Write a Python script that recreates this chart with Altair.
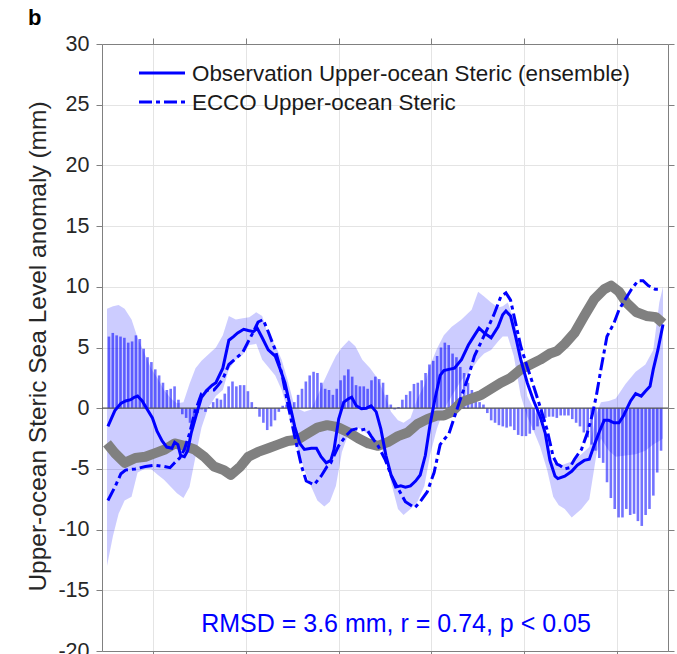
import altair as alt
import pandas as pd

FONT = "Liberation Sans"
BLUE = "#0000ff"
GRAY = "#808080"
AXIS_GRAY = "#808080"
TEXT_DARK = "#262626"

x_domain = [2005, 2017]
year_ticks = [2006, 2008, 2010, 2012, 2014, 2016]
y_ticks = [-20, -15, -10, -5, 0, 5, 10, 15, 20, 25, 30]

# monthly difference bars (mm), Jan 2005 .. Dec 2016
bar_values = [
    5.9, 6.2, 6.0, 5.9, 5.8, 5.4, 5.5, 6.0, 5.7, 4.9, 4.2, 3.8,
    3.2, 2.7, 2.1, 1.5, 1.6, 1.8, 0.7, -0.5, -0.8, -1.2, -1.0, -0.4,
    -0.1, -0.3, 0.1, 0.5, 0.8, 0.7, 1.2, 1.8, 2.2, 1.8, 1.9, 1.9,
    1.4, 0.5, 0.1, -0.7, -1.2, -1.8, -1.5, -1.0, -0.3, 0.2, 0.3, 0.1,
    0.5, 1.1, 1.6, 2.2, 2.7, 3.0, 2.9, 2.1, 1.6, 1.5, 1.1, 1.6,
    2.3, 2.7, 3.2, 2.6, 1.9, 1.8, 1.8, 1.6, 2.3, 2.6, 2.4, 2.1,
    1.1, 0.3, -0.1, 0.1, 0.7, 1.1, 1.4, 2.0, 2.1, 2.3, 2.9, 3.6,
    3.9, 4.3, 5.0, 5.4, 5.2, 4.5, 4.2, 3.4, 2.9, 2.1, 1.5, 1.1,
    0.5, 0.3, -0.4, -1.0, -1.2, -1.4, -1.5, -1.6, -1.5, -1.8, -2.2, -2.3,
    -2.3, -2.1, -1.8, -1.5, -1.1, -0.8, -0.7, -0.7, -0.8, -0.6, -0.6, -0.6,
    -0.9, -1.2, -1.5, -2.0, -2.4, -3.0, -3.5, -4.1, -4.5, -6.1, -7.4, -8.3,
    -9.0, -9.0, -8.3, -8.8, -8.7, -9.3, -9.7, -8.8, -8.3, -7.2, -5.3, -3.5,
]
bar_time = [2005 + (i + 0.5) / 12 for i in range(len(bar_values))]

obs_time = [
    2005.02, 2005.17, 2005.30, 2005.40, 2005.51, 2005.59, 2005.66, 2005.76, 2005.87, 2005.98,
    2006.08, 2006.19, 2006.29, 2006.40, 2006.46, 2006.53, 2006.59, 2006.67, 2006.74, 2006.82,
    2006.93, 2007.04, 2007.16, 2007.27, 2007.35, 2007.50, 2007.63, 2007.73, 2007.82, 2007.95,
    2008.05, 2008.16, 2008.24, 2008.35, 2008.48, 2008.63, 2008.73, 2008.84, 2008.94, 2009.05,
    2009.16, 2009.26, 2009.41, 2009.52, 2009.62, 2009.73, 2009.83, 2009.90, 2010.00, 2010.11,
    2010.22, 2010.28, 2010.38, 2010.49, 2010.60, 2010.70, 2010.81, 2010.91, 2011.02, 2011.13,
    2011.23, 2011.34, 2011.44, 2011.55, 2011.66, 2011.76, 2011.87, 2011.97, 2012.08, 2012.19,
    2012.27, 2012.38, 2012.50, 2012.65, 2012.80, 2012.93, 2013.03, 2013.14, 2013.29, 2013.44,
    2013.54, 2013.61, 2013.71, 2013.82, 2013.93, 2014.07, 2014.20, 2014.35, 2014.46, 2014.56,
    2014.67, 2014.73, 2014.88, 2015.03, 2015.15, 2015.30, 2015.41, 2015.52, 2015.62, 2015.73,
    2015.83, 2015.94, 2016.05, 2016.15, 2016.30, 2016.41, 2016.53, 2016.62, 2016.72, 2016.79,
    2016.89, 2017.00,
]
obs_value = [
    -1.5, -0.2, 0.4, 0.6, 0.7, 0.9, 1.0, 0.6, -0.1, -0.8,
    -1.9, -2.7, -3.2, -3.3, -2.8, -3.0, -3.9, -4.0, -3.5, -2.0,
    -0.5, 0.9, 1.5, 1.9, 2.1, 3.3, 5.6, 5.9, 6.2, 6.5,
    6.4, 6.3, 6.6, 5.8, 4.8, 4.3, 3.3, 2.1, 0.4, -1.5,
    -2.9, -3.4, -3.3, -3.3, -4.0, -4.5, -4.3, -3.4, -0.9, 0.5,
    0.8, 0.9, 0.2, -0.05, 0.0, 0.2, -0.3, -1.7, -3.9, -5.5,
    -6.5, -6.4, -6.5, -6.4, -6.0, -5.5, -3.9, -1.4, 0.8, 2.7,
    3.1, 3.2, 3.3, 4.0, 5.2, 6.0, 6.6, 6.2, 5.8, 6.7,
    7.7, 8.0, 7.6, 5.9, 4.0, 2.1, 0.7, -0.7, -2.1, -4.3,
    -5.6, -5.8, -5.6, -5.2, -4.7, -4.3, -4.2, -3.0, -2.0, -1.0,
    -1.0, -1.2, -1.2, -0.6, 0.6, 1.2, 1.0, 1.4, 1.8, 3.2,
    4.8, 6.9,
]

ecco_time = [
    2005.02, 2005.17, 2005.30, 2005.40, 2005.61, 2005.83, 2006.04, 2006.23, 2006.36, 2006.46,
    2006.57, 2006.67, 2006.78, 2006.89, 2007.04, 2007.18, 2007.31, 2007.40, 2007.50, 2007.63,
    2007.78, 2007.93, 2008.05, 2008.16, 2008.26, 2008.37, 2008.48, 2008.63, 2008.77, 2008.90,
    2009.05, 2009.20, 2009.30, 2009.47, 2009.62, 2009.75, 2009.83, 2009.90, 2010.00, 2010.15,
    2010.28, 2010.38, 2010.49, 2010.60, 2010.70, 2010.85, 2011.00, 2011.13, 2011.28, 2011.44,
    2011.64, 2011.76, 2011.91, 2012.06, 2012.19, 2012.27, 2012.38, 2012.50, 2012.65, 2012.80,
    2012.93, 2013.08, 2013.23, 2013.35, 2013.50, 2013.61, 2013.71, 2013.82, 2013.93, 2014.07,
    2014.20, 2014.35, 2014.50, 2014.63, 2014.71, 2014.77, 2014.88, 2014.99, 2015.09, 2015.24,
    2015.37, 2015.47, 2015.56, 2015.66, 2015.79, 2015.94, 2016.05, 2016.19, 2016.32, 2016.46,
    2016.57, 2016.68, 2016.83, 2016.96,
]
ecco_value = [
    -7.6, -6.5, -5.4, -5.1, -5.0, -4.8, -4.7, -4.8, -4.9, -4.5,
    -4.1, -3.4, -2.1, -0.4, 1.2, 1.5, 1.5, 1.9, 2.4, 3.6,
    4.1, 4.6, 5.5, 6.3, 7.1, 7.3, 6.3, 4.8, 2.9, 0.4,
    -2.3, -4.8, -6.0, -6.3, -5.6, -4.8, -4.5, -3.9, -3.1, -2.3,
    -1.8, -1.7, -1.8, -1.7, -2.3, -3.1, -4.2, -5.5, -6.6, -7.7,
    -8.2, -7.7, -6.9, -5.3, -3.0, -2.6, -2.1, -0.7, 1.0, 2.6,
    4.3, 5.5, 6.7, 7.7, 9.2, 9.5, 8.9, 7.0, 5.1, 3.4,
    1.9, 0.1, -1.8, -4.0, -4.6, -4.7, -5.0, -4.9, -4.2, -3.4,
    -2.0, -0.6, 1.0, 3.2, 5.9, 7.0, 8.1, 9.0, 9.8, 10.5,
    10.5, 10.1, 9.8, 9.8,
]

trend_time = [
    2005.00, 2005.17, 2005.38, 2005.61, 2005.83, 2006.04, 2006.25, 2006.46, 2006.67, 2006.89,
    2007.10, 2007.31, 2007.52, 2007.67, 2007.88, 2008.05, 2008.26, 2008.48, 2008.69, 2008.90,
    2009.11, 2009.32, 2009.54, 2009.75, 2009.90, 2010.00, 2010.22, 2010.43, 2010.64, 2010.85,
    2011.06, 2011.28, 2011.49, 2011.70, 2011.91, 2012.12, 2012.27, 2012.44, 2012.65, 2012.87,
    2013.08, 2013.29, 2013.50, 2013.71, 2013.93, 2014.14, 2014.35, 2014.56, 2014.71, 2014.88,
    2015.09, 2015.30, 2015.52, 2015.73, 2015.88, 2016.05, 2016.21, 2016.43, 2016.64, 2016.85,
    2017.00,
]
trend_value = [
    -2.9, -3.7, -4.5, -4.1, -4.0, -3.7, -3.4, -2.9, -3.1, -3.4,
    -4.0, -4.8, -5.1, -5.5, -4.8, -4.0, -3.6, -3.3, -3.0, -2.7,
    -2.6, -2.1, -1.6, -1.4, -1.5, -1.6, -2.0, -2.5, -2.9, -3.1,
    -2.8, -2.3, -2.0, -1.3, -0.9, -0.6, -0.6, -0.3, 0.5, 0.8,
    1.1, 1.6, 2.1, 2.5, 3.2, 3.6, 4.0, 4.5, 4.7, 5.3,
    6.2, 7.6, 9.0, 9.8, 10.1, 9.6, 8.7, 7.9, 7.6, 7.5,
    7.0,
]

band_time = [
    2005.00, 2005.13, 2005.25, 2005.38, 2005.53, 2005.66, 2005.81, 2005.95, 2006.10, 2006.23,
    2006.38, 2006.51, 2006.65, 2006.78, 2006.91, 2007.04, 2007.18, 2007.35, 2007.50, 2007.63,
    2007.78, 2007.93, 2008.07, 2008.22, 2008.35, 2008.48, 2008.63, 2008.77, 2008.90, 2009.05,
    2009.16, 2009.26, 2009.41, 2009.54, 2009.69, 2009.81, 2009.94, 2010.07, 2010.22, 2010.36,
    2010.51, 2010.68, 2010.85, 2011.00, 2011.13, 2011.28, 2011.40, 2011.55, 2011.70, 2011.85,
    2011.97, 2012.12, 2012.27, 2012.44, 2012.65, 2012.87, 2013.01, 2013.14, 2013.29, 2013.44,
    2013.54, 2013.65, 2013.78, 2013.93, 2014.07, 2014.20, 2014.35, 2014.50, 2014.63, 2014.75,
    2014.88, 2015.03, 2015.24, 2015.41, 2015.56, 2015.66, 2015.83, 2015.98, 2016.19, 2016.41,
    2016.62, 2016.79, 2016.92, 2017.00,
]
band_upper = [
    8.2, 8.4, 8.5, 8.2, 7.3, 5.8, 4.5, 3.3, 2.4, 1.5,
    0.8, 0.4, 0.5, 2.0, 3.3, 3.9, 4.4, 5.0, 6.0, 7.6,
    7.3, 7.4, 7.5, 7.9, 7.6, 6.0, 5.2, 4.0, 2.3, 0.1,
    -0.1, -0.3, -0.1, 1.0, 2.3, 3.3, 4.3, 5.0, 5.6, 5.1,
    4.0, 3.3, 2.4, 1.0, -0.3, -1.0, -1.2, -0.8, 0.8, 1.9,
    3.5, 4.9, 6.0, 6.7, 7.3, 8.1, 9.6, 9.2, 8.7, 8.3,
    8.4, 8.7, 7.3, 5.0, 1.0, 0.0, -1.2, -2.9, -4.5, -4.8,
    -4.6, -4.4, -3.8, -3.2, -0.5, 0.5, 0.6, 0.8, 2.0, 3.0,
    3.6, 4.8, 8.7, 10.0,
]
band_lower = [
    -13.0, -10.5, -8.7, -7.6, -7.3, -5.3, -5.0, -5.0, -5.5, -5.9,
    -6.5, -7.0, -7.4, -6.5, -4.0, -1.6, 0.0, 1.0, 1.5, 3.2,
    4.0, 4.4, 5.2, 5.3, 4.0, 3.4, 2.7, 1.5, -0.2, -2.6,
    -3.9, -5.1, -6.5, -7.6, -8.1, -7.7, -6.4, -3.6, -2.0, -1.5,
    -1.8, -2.3, -2.7, -3.9, -6.1, -8.3, -8.8, -8.3, -7.7, -6.4,
    -3.9, -1.7, -0.1, 1.0, 2.3, 3.2, 4.0, 4.5, 4.8, 5.5,
    5.9, 5.9, 4.3, 1.0, -0.7, -1.8, -3.2, -5.1, -7.3, -8.0,
    -8.3, -9.0, -8.3, -7.5, -3.9, -2.5, -3.5, -4.0, -3.9, -3.8,
    -3.5, -3.0, -2.7, -2.5,
]

legend_labels = ["Observation Upper-ocean Steric (ensemble)", "ECCO Upper-ocean Steric"]
stats_label = "RMSD = 3.6 mm, r = 0.74, p < 0.05"
panel_label = "b"
y_title = "Upper-ocean Steric Sea Level anomaly (mm)"

bars_df = pd.DataFrame({"t": bar_time, "v": bar_values})
obs_df = pd.DataFrame({"t": obs_time, "v": obs_value})
ecco_df = pd.DataFrame({"t": ecco_time, "v": ecco_value})
trend_df = pd.DataFrame({"t": trend_time, "v": trend_value})
band_df = pd.DataFrame({"t": band_time, "hi": band_upper, "lo": band_lower})

xscale = alt.Scale(domain=x_domain, nice=False, zero=False)
yscale = alt.Scale(domain=[-20, 30], nice=False, zero=False)

bottom_axis = alt.Axis(values=year_ticks, labels=False, title=None, grid=True,
                       gridColor="#e4e4e4", tickSize=6, tickColor=AXIS_GRAY,
                       domainColor=AXIS_GRAY)
left_axis = alt.Axis(values=y_ticks, grid=True, gridColor="#e4e4e4", tickSize=6,
                     tickColor=AXIS_GRAY, domainColor=AXIS_GRAY,
                     labelFont=FONT, labelFontSize=21.5, labelColor=TEXT_DARK,
                     labelPadding=7, labelExpr="'' + datum.value",
                     title=y_title, titleFont=FONT, titleFontSize=24.5,
                     titleFontWeight="normal", titleColor=TEXT_DARK,
                     titleAngle=270, titleX=-64, titleY=302,
                     titleBaseline="middle", titleAlign="center")
top_axis = alt.Axis(orient="top", values=year_ticks, labels=False, title=None,
                    grid=False, tickSize=6, tickColor=AXIS_GRAY, domainColor=AXIS_GRAY)
right_axis = alt.Axis(orient="right", values=y_ticks, labels=False, title=None,
                      grid=False, tickSize=6, tickColor=AXIS_GRAY, domainColor=AXIS_GRAY)

band = alt.Chart(band_df).mark_area(color=BLUE, opacity=0.2).encode(
    x=alt.X("t:Q", scale=xscale, axis=bottom_axis),
    y=alt.Y("hi:Q", scale=yscale, axis=left_axis),
    y2="lo:Q",
)

bars = alt.Chart(bars_df).mark_bar(color=BLUE, opacity=0.55, size=2.6).encode(
    x=alt.X("t:Q", scale=xscale, axis=None),
    y=alt.Y("v:Q", scale=yscale, axis=None),
    y2=alt.datum(0),
)

zero = alt.Chart(pd.DataFrame({"z": [0]})).mark_rule(color="#555555", strokeWidth=1.2).encode(
    y=alt.Y("z:Q", scale=yscale, axis=None)
)

trend = alt.Chart(trend_df).mark_line(color=GRAY, strokeWidth=10, strokeJoin="round").encode(
    x=alt.X("t:Q", scale=xscale, axis=top_axis),
    y=alt.Y("v:Q", scale=yscale, axis=right_axis),
)

ecco = alt.Chart(ecco_df).mark_line(color=BLUE, strokeWidth=3, strokeDash=[13, 4, 4, 4]).encode(
    x=alt.X("t:Q", scale=xscale, axis=None),
    y=alt.Y("v:Q", scale=yscale, axis=None),
)

obs = alt.Chart(obs_df).mark_line(color=BLUE, strokeWidth=3).encode(
    x=alt.X("t:Q", scale=xscale, axis=None),
    y=alt.Y("v:Q", scale=yscale, axis=None),
)

leg1_line = alt.Chart(pd.DataFrame({"k": [0]})).mark_rule(color=BLUE, strokeWidth=3).encode(
    x=alt.value(37), x2=alt.value(83), y=alt.value(29)
)
leg2_line = alt.Chart(pd.DataFrame({"k": [0]})).mark_rule(
    color=BLUE, strokeWidth=3, strokeDash=[13, 4, 4, 4]
).encode(x=alt.value(37), x2=alt.value(83), y=alt.value(58))

leg1_text = alt.Chart(pd.DataFrame({"label": [legend_labels[0]]})).mark_text(
    align="left", baseline="middle", font=FONT, fontSize=22.4, color="#1a1a1a"
).encode(x=alt.value(90), y=alt.value(30), text="label:N")
leg2_text = alt.Chart(pd.DataFrame({"label": [legend_labels[1]]})).mark_text(
    align="left", baseline="middle", font=FONT, fontSize=22.4, color="#1a1a1a"
).encode(x=alt.value(90), y=alt.value(59), text="label:N")

stats = alt.Chart(pd.DataFrame({"label": [stats_label]})).mark_text(
    align="center", baseline="alphabetic", font=FONT, fontSize=25, color=BLUE
).encode(x=alt.value(294), y=alt.value(588), text="label:N")

panel = alt.Chart(pd.DataFrame({"label": [panel_label]})).mark_text(
    align="left", baseline="alphabetic", font=FONT, fontSize=22, fontWeight="bold",
    color="#000000"
).encode(x=alt.value(-74), y=alt.value(-19), text="label:N")

chart = alt.layer(
    band, bars, zero, trend, ecco, obs,
    leg1_line, leg2_line, leg1_text, leg2_text, stats, panel,
).resolve_axis(x="independent", y="independent").properties(
    width=566, height=607,
    autosize=alt.AutoSizeParams(type="none"),
    padding={"left": 102, "top": 44, "right": 9, "bottom": 3},
).configure_view(strokeWidth=0).configure(background="white")

chart.save("out.html", embed_options={"renderer": "svg", "actions": False})
